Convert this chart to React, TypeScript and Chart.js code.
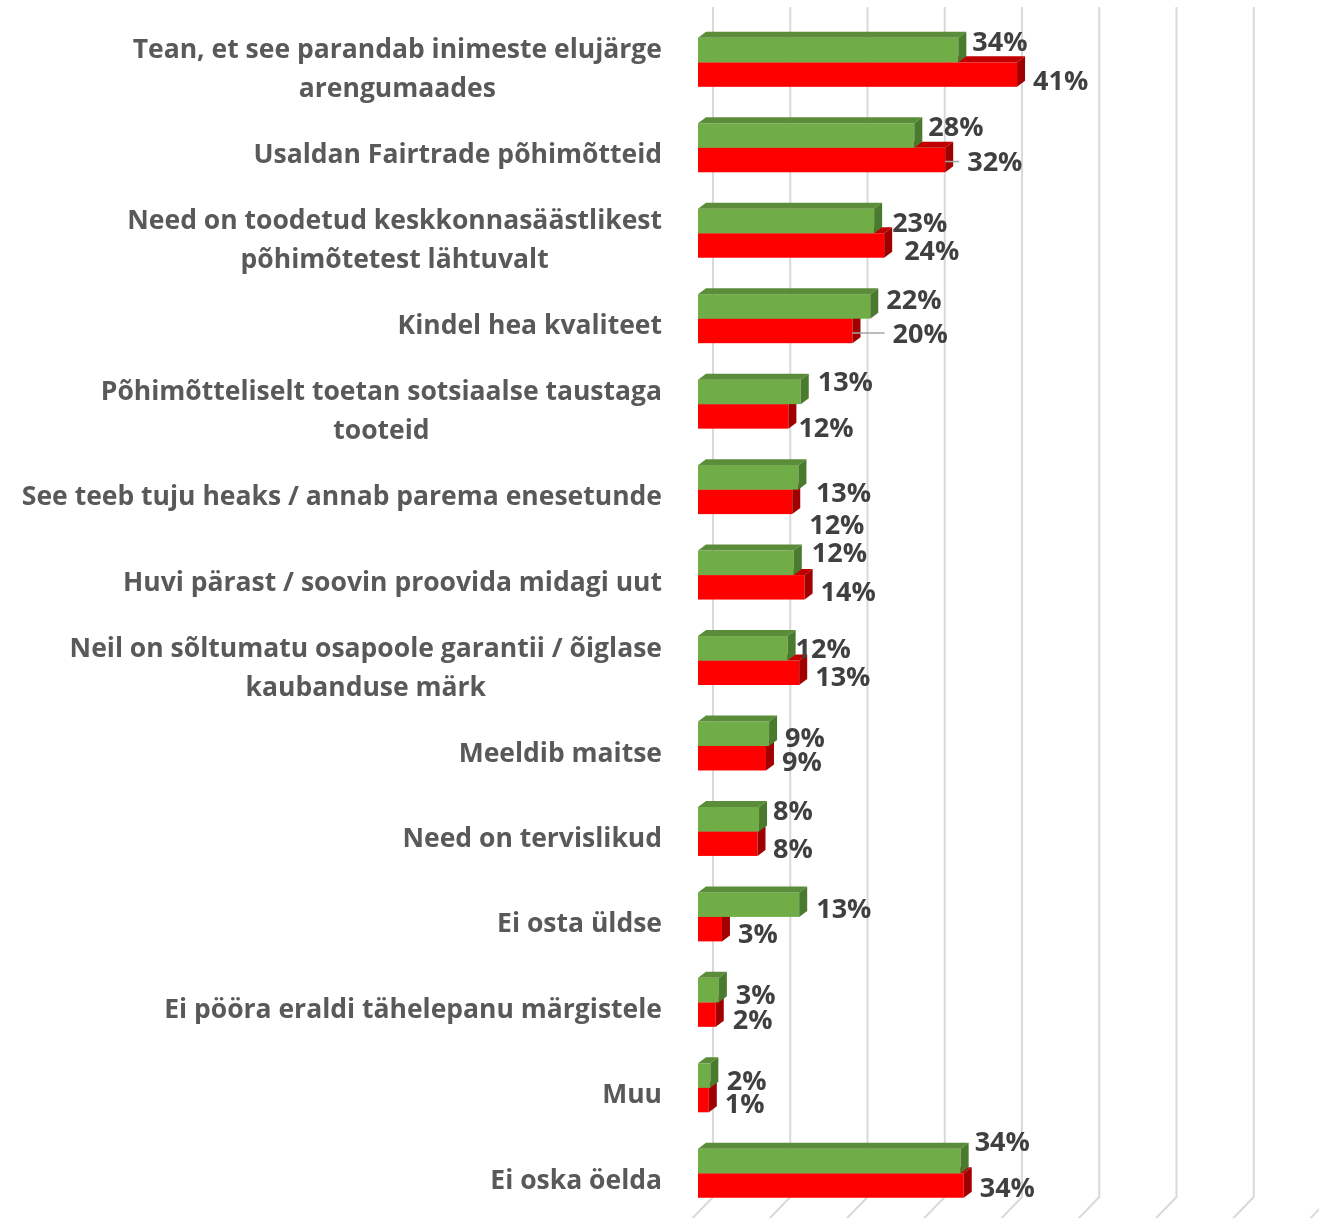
import React, { useEffect, useRef } from 'react';
import { Chart, registerables } from 'chart.js';

Chart.register(...registerables);

const categories: (string | string[])[] = [
  ['Tean, et see parandab inimeste elujärge', 'arengumaades'],
  'Usaldan Fairtrade põhimõtteid',
  ['Need on toodetud keskkonnasäästlikest', 'põhimõtetest lähtuvalt'],
  'Kindel hea kvaliteet',
  ['Põhimõtteliselt toetan sotsiaalse taustaga', 'tooteid'],
  'See teeb tuju heaks / annab parema enesetunde',
  'Huvi pärast / soovin proovida midagi uut',
  ['Neil on sõltumatu osapoole garantii / õiglase', 'kaubanduse märk'],
  'Meeldib maitse',
  'Need on tervislikud',
  'Ei osta üldse',
  'Ei pööra eraldi tähelepanu märgistele',
  'Muu',
  'Ei oska öelda',
];

const greenValues = [33.7, 28.0, 22.8, 22.3, 13.3, 13.0, 12.4, 11.6, 9.2, 7.9, 13.1, 2.7, 1.6, 34.0];
const redValues = [41.3, 32.0, 24.1, 20.0, 11.7, 12.2, 13.8, 13.1, 8.8, 7.7, 3.1, 2.3, 1.4, 34.4];
const xTicks = [0, 10, 20, 30, 40, 50, 60, 70, 80];

// label nudges (dx, dy) relative to default label position
const greenNudge = [[0, -8], [0, -8], [4, 2.5], [2, -6.5], [3, -10], [3.5, 15.5], [4, -9.5], [-6, 1.5], [2, 4.5], [0, -7.5], [3, 5], [3, 5.5], [2.5, 5.5], [0, -18.5]];
const redNudge = [[2, 6.5], [8, 2.5], [6, 6], [26, 3], [-4, 11.5], [3, 23.5], [2, 4.5], [2, 4.5], [2, 4.5], [1.5, 5.5], [2, 5], [3, 5.5], [2, 4.5], [2, 2.5]];
const redLeader = [false, true, false, true, false, false, false, false, false, false, false, false, false, false];

const FONT = '"Open Sans", Lato, sans-serif';
const DX = 8;
const DY = 6;

const faces = [
  { front: '#70AD47', top: '#5B8C3A', side: '#4A7A2E' },
  { front: '#FF0000', top: '#C00000', side: '#A00000' },
];

const threeD = {
  id: 'threeD',
  beforeDatasetsDraw(chart: any) {
    const { ctx, chartArea } = chart;
    const xs = chart.scales.x;
    ctx.save();
    ctx.strokeStyle = '#D9D9D9';
    ctx.lineWidth = 2;
    for (const v of xTicks) {
      const x = xs.getPixelForValue(v) + 15;
      ctx.beginPath();
      ctx.moveTo(x, chartArea.top - 12.5);
      ctx.lineTo(x, chartArea.bottom - 19);
      ctx.lineTo(x - 30, chartArea.bottom + 12);
      ctx.stroke();
    }
    ctx.restore();
  },
  afterDatasetsDraw(chart: any) {
    const { ctx } = chart;
    const metaG = chart.getDatasetMeta(0);
    const metaR = chart.getDatasetMeta(1);
    const drawBar = (el: any, f: any) => {
      const p = el.getProps(['x', 'y', 'base', 'height'], true);
      const top = p.y - p.height / 2;
      const bot = p.y + p.height / 2;
      const l = Math.min(p.base, p.x);
      const r = Math.max(p.base, p.x);
      ctx.fillStyle = f.front;
      ctx.fillRect(l, top, r - l, bot - top);
      ctx.fillStyle = f.top;
      ctx.beginPath();
      ctx.moveTo(l, top);
      ctx.lineTo(l + DX, top - DY);
      ctx.lineTo(r + DX, top - DY);
      ctx.lineTo(r, top);
      ctx.closePath();
      ctx.fill();
      ctx.fillStyle = f.side;
      ctx.beginPath();
      ctx.moveTo(r, top);
      ctx.lineTo(r + DX, top - DY);
      ctx.lineTo(r + DX, bot - DY);
      ctx.lineTo(r, bot);
      ctx.closePath();
      ctx.fill();
    };
    ctx.save();
    for (let i = 0; i < categories.length; i++) {
      drawBar(metaR.data[i], faces[1]);
      drawBar(metaG.data[i], faces[0]);
    }
    // value labels
    ctx.font = `bold 27px ${FONT}`;
    ctx.fillStyle = '#404040';
    ctx.textAlign = 'left';
    ctx.textBaseline = 'middle';
    const drawLabel = (el: any, v: number, n: number[], leader: boolean) => {
      const p = el.getProps(['x', 'y'], true);
      const lx = p.x + DX + 6 + n[0];
      const ly = p.y + n[1];
      if (leader) {
        ctx.save();
        ctx.strokeStyle = '#A6A6A6';
        ctx.lineWidth = 1.5;
        ctx.beginPath();
        ctx.moveTo(p.x, ly - 1);
        ctx.lineTo(lx - 8, ly - 1);
        ctx.stroke();
        ctx.restore();
      }
      ctx.fillText(`${Math.round(v)}%`, lx, ly + 1);
    };
    for (let i = 0; i < categories.length; i++) {
      drawLabel(metaG.data[i], greenValues[i], greenNudge[i], false);
      drawLabel(metaR.data[i], redValues[i], redNudge[i], redLeader[i]);
    }
    ctx.restore();
  },
  afterDraw(chart: any) {
    const { ctx, chartArea } = chart;
    const ys = chart.scales.y;
    const rightEdge = chartArea.left - 36;
    const lh = 39;
    ctx.save();
    ctx.font = `bold 26.5px ${FONT}`;
    ctx.fillStyle = '#595959';
    ctx.textAlign = 'center';
    ctx.textBaseline = 'middle';
    categories.forEach((c, i) => {
      const lines = Array.isArray(c) ? c : [c];
      const w = Math.max(...lines.map((s) => ctx.measureText(s).width));
      const cx = rightEdge - w / 2;
      const cy = ys.getPixelForValue(i) + 8;
      lines.forEach((s, k) => {
        ctx.fillText(s, cx, cy + (k - (lines.length - 1) / 2) * lh);
      });
    });
    ctx.restore();
  },
};

export default function App() {
  const ref = useRef<HTMLCanvasElement>(null);
  useEffect(() => {
    const canvas = ref.current!;
    const chart = new Chart(canvas, {
      type: 'bar',
      data: {
        labels: categories.map((c) => (Array.isArray(c) ? c.join(' ') : c)),
        datasets: [
          { label: 'Seeria 1', data: greenValues, backgroundColor: 'rgba(0,0,0,0)' },
          { label: 'Seeria 2', data: redValues, backgroundColor: 'rgba(0,0,0,0)' },
        ],
      },
      options: {
        indexAxis: 'y',
        responsive: false,
        animation: false,
        devicePixelRatio: 1,
        layout: { padding: { left: 698, right: 3, top: 19.6, bottom: 2 } },
        datasets: { bar: { categoryPercentage: 0.573, barPercentage: 1 } },
        plugins: { legend: { display: false }, tooltip: { enabled: false } },
        scales: {
          x: { display: false, min: 0, max: 80 },
          y: { display: false },
        },
      } as any,
      plugins: [threeD],
    });
    return () => chart.destroy();
  }, []);
  return (
    <div style={{ position: 'absolute', left: 0, top: 0, width: 1319, height: 1218, background: '#fff' }}>
      <canvas ref={ref} width={1319} height={1218} style={{ display: 'block' }} />
    </div>
  );
}
